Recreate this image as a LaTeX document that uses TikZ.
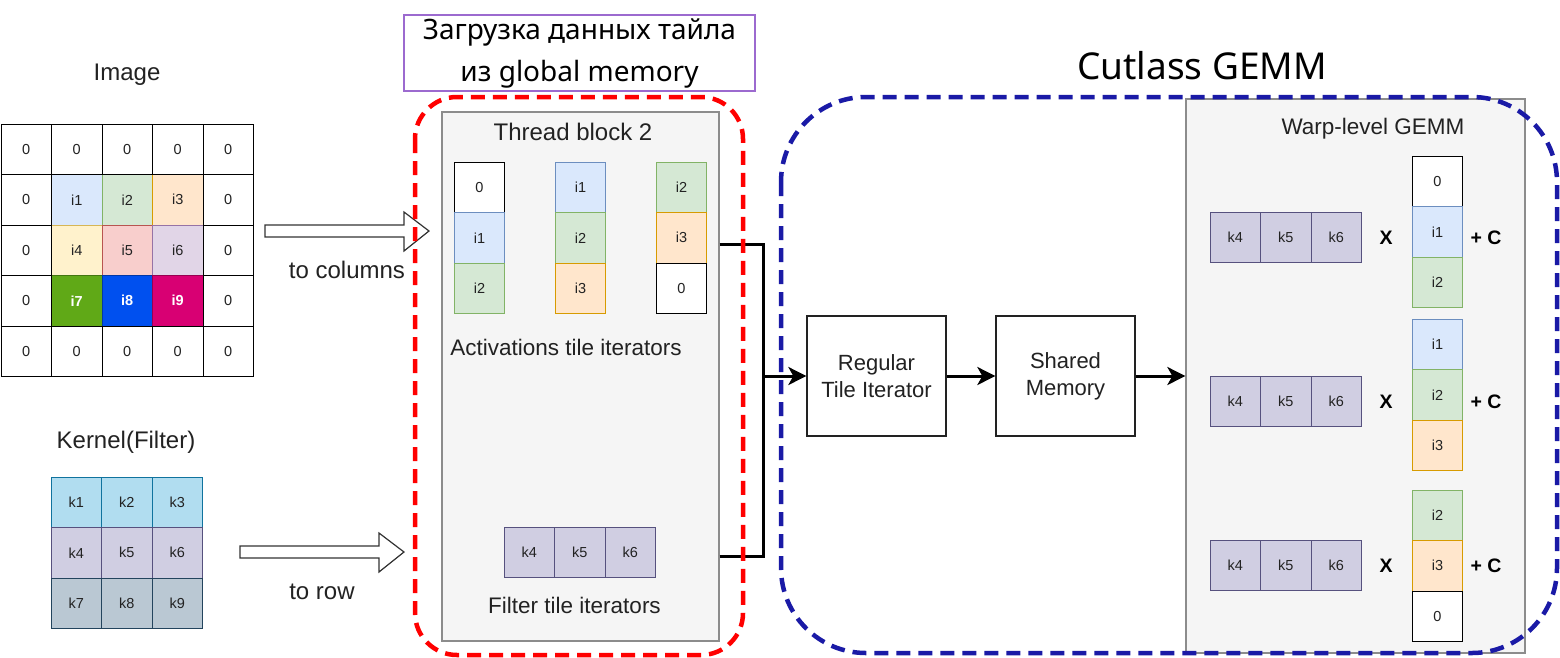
\documentclass[tikz,border=0pt]{standalone}
\usepackage{fontspec}
\setmainfont{Liberation Sans}
\newfontfamily\geofont{Noto Sans}
\usetikzlibrary{arrows.meta}
\definecolor{fblue}{HTML}{DAE8FC}\definecolor{bblue}{HTML}{6C8EBF}
\definecolor{fgreen}{HTML}{D5E8D4}\definecolor{bgreen}{HTML}{82B366}
\definecolor{forange}{HTML}{FFE6CC}\definecolor{borange}{HTML}{D79B00}
\definecolor{fyellow}{HTML}{FFF2CC}\definecolor{byellow}{HTML}{D6B656}
\definecolor{fred}{HTML}{F8CECC}\definecolor{bred}{HTML}{B85450}
\definecolor{fpurple}{HTML}{E1D5E7}\definecolor{bpurple}{HTML}{9673A6}
\definecolor{dgreen}{HTML}{60A917}\definecolor{dblue}{HTML}{0050EF}\definecolor{dmag}{HTML}{D80073}
\definecolor{kblue}{HTML}{B1DDF0}\definecolor{kblueb}{HTML}{10739E}
\definecolor{klav}{HTML}{D0CEE2}\definecolor{klavb}{HTML}{56517E}
\definecolor{kgray}{HTML}{BAC8D3}\definecolor{kgrayb}{HTML}{23445D}
\definecolor{panel}{HTML}{F5F5F5}\definecolor{panelb}{HTML}{8C8C8C}
\definecolor{lblbox}{HTML}{9C6ACF}
\definecolor{cutblue}{HTML}{1A1AA6}
\definecolor{txt}{HTML}{222222}
\tikzset{
  cell/.style={draw, minimum width=50.5pt, minimum height=50.5pt, inner sep=0pt, line width=1pt,
    text=txt, font=\fontsize{14.5}{16}\selectfont},
  wcell/.style={fill=white, draw=black},
  cblue/.style={fill=fblue, draw=bblue},
  cgreen/.style={fill=fgreen, draw=bgreen},
  corange/.style={fill=forange, draw=borange},
  cyellow/.style={fill=fyellow, draw=byellow},
  cred/.style={fill=fred, draw=bred},
  cpurple/.style={fill=fpurple, draw=bpurple},
  cdgreen/.style={fill=dgreen, draw=dgreen!70!black, text=white, font=\fontsize{14.5}{16}\selectfont\bfseries},
  cdblue/.style={fill=dblue, draw=dblue!70!black, text=white, font=\fontsize{14.5}{16}\selectfont\bfseries},
  cdmag/.style={fill=dmag, draw=dmag!70!black, text=white, font=\fontsize{14.5}{16}\selectfont\bfseries},
  kb/.style={fill=kblue, draw=kblueb},
  kl/.style={fill=klav, draw=klavb},
  kg/.style={fill=kgray, draw=kgrayb},
  big/.style={text=txt, font=\fontsize{24}{28}\selectfont},
  mid/.style={text=txt, font=\fontsize{22.5}{27}\selectfont},
  opx/.style={text=black, font=\fontsize{19.5}{22}\selectfont\bfseries},
  panelbox/.style={draw=panelb, fill=panel, line width=1.3pt},
  procbox/.style={draw=txt, fill=white, line width=1.3pt, minimum width=139pt, minimum height=120pt,
    align=center, text=txt, font=\fontsize{22}{27}\selectfont},
  conn/.style={line width=3pt, black},
  arr/.style={line width=3pt, black, -{Stealth[length=18pt, width=18pt, inset=5pt]}},
  blockarrow/.style={draw=black!80, fill=white, line width=1.2pt, line join=miter},
  reddash/.style={draw=red, line width=4.5pt, dash pattern=on 14pt off 8pt, rounded corners=42pt},
  bluedash/.style={draw=cutblue, line width=4.5pt, dash pattern=on 14pt off 8pt, rounded corners=85pt}
}
\begin{document}
\begin{tikzpicture}[x=1pt, y=-1pt]
\fill[white] (0,0) rectangle (1560,657);
\useasboundingbox (0,0) rectangle (1560,657);

% ---------- Image grid ----------
\node[big] (imgtitle) at (127,75) {Image};
\foreach \r/\c/\t/\s in {1/1/i1/cblue,1/2/i2/cgreen,1/3/i3/corange,2/1/i4/cyellow,2/2/i5/cred,2/3/i6/cpurple,3/1/i7/cdgreen,3/2/i8/cdblue,3/3/i9/cdmag}
  \node[cell,\s] (img\r\c) at ({1+50.5*\c+25.25},{124+50.5*\r+25.25}) {\t};
\foreach \r in {0,...,4}{\foreach \c in {0,...,4}{
  \pgfmathtruncatemacro\inner{(\r>0)&&(\r<4)&&(\c>0)&&(\c<4)}
  \ifnum\inner=0
    \node[cell,wcell] (img\r\c) at ({1+50.5*\c+25.25},{124+50.5*\r+25.25}) {0};
  \fi
}}

% ---------- Kernel grid ----------
\node[big] (kertitle) at (126,442) {Kernel(Filter)};
\foreach \r/\c/\t/\s in {0/0/k1/kb,0/1/k2/kb,0/2/k3/kb,1/0/k4/kl,1/1/k5/kl,1/2/k6/kl,2/0/k7/kg,2/1/k8/kg,2/2/k9/kg}
  \node[cell,\s] (ker\r\c) at ({51+50.5*\c+25.25},{477+50.5*\r+25.25}) {\t};

% ---------- block arrows ----------
\draw[blockarrow] (265,225) -- (404,225) -- (404,212) -- (429,231) -- (404,251) -- (404,237) -- (265,237) -- cycle;
\node[big] (tocol) at (347,270) {to columns};
\draw[blockarrow] (240,546) -- (379,546) -- (379,533) -- (404,552) -- (379,572) -- (379,558) -- (240,558) -- cycle;
\node[big] (torow) at (322,592) {to row};

% ---------- top label ----------
\node[draw=lblbox, line width=1.4pt, minimum width=351pt, minimum height=76pt, inner sep=0pt,
  align=center, text=black, font=\geofont\fontsize{28}{42}\selectfont] (loadlbl) at (579.5,53)
  {\raisebox{-3pt}{Загрузка данных тайла}\\\raisebox{-3pt}{из global memory}};

% ---------- Thread block ----------
\node[panelbox, minimum width=277pt, minimum height=529pt] (tb) at (580.5,376.5) {};
\node[big] (tbtitle) at (573,132) {Thread block 2};
\foreach \i/\t/\s in {0/0/wcell,1/i1/cblue,2/i2/cgreen}
  \node[cell,\s] (acta\i) at (479.5,{162+25.25+50.5*\i}) {\t};
\foreach \i/\t/\s in {0/i1/cblue,1/i2/cgreen,2/i3/corange}
  \node[cell,\s] (actb\i) at (580.5,{162+25.25+50.5*\i}) {\t};
\foreach \i/\t/\s in {0/i2/cgreen,1/i3/corange,2/0/wcell}
  \node[cell,\s] (actc\i) at (681.5,{162+25.25+50.5*\i}) {\t};
\node[mid] (actlbl) at (566,347) {Activations tile iterators};
\foreach \i/\t in {0/k4,1/k5,2/k6}
  \node[cell,kl] (flt\i) at ({504+25.25+50.5*\i},552.5) {\t};
\node[mid] (fltlbl) at (574.5,605) {Filter tile iterators};

% ---------- GEMM pipeline ----------
\node[procbox] (rti) at (876.5,376) {Regular\\Tile Iterator};
\node[procbox] (sm) at (1065.5,376) {Shared\\Memory};
\node[panelbox, minimum width=339pt, minimum height=554pt] (warp) at (1355.5,376) {};
\node[mid] (warplbl) at (1373,129) {Warp-level GEMM};

% warp rows
\foreach \row/\yc/\ya/\la/\sa/\lb/\sb/\lc/\sc in {
   1/237.5/156/0/wcell/i1/cblue/i2/cgreen,
   2/401.5/319/i1/cblue/i2/cgreen/i3/corange,
   3/565.5/490/i2/cgreen/i3/corange/0/wcell}{
  \foreach \i/\t in {0/k4,1/k5,2/k6}
    \node[cell,kl] (wk\row\i) at ({1210+25.25+50.5*\i},\yc) {\t};
  \node[opx] (wx\row) at (1386,\yc) {X};
  \node[cell,\sa] (wc\row a) at (1437.5,{\ya+25.25}) {\la};
  \node[cell,\sb] (wc\row b) at (1437.5,{\ya+25.25+50.5}) {\lb};
  \node[cell,\sc] (wc\row c) at (1437.5,{\ya+25.25+101}) {\lc};
  \node[opx] (wp\row) at (1486,\yc) {+ C};
}

% ---------- connectors ----------
\coordinate (tbA) at (719.5,244);
\coordinate (tbF) at (719.5,556);
\coordinate (join) at (763,376);
\draw[conn] (tbA) -| (join);
\draw[conn] (tbF) -| (join);
\draw[arr] (join) -- (rti.west);
\draw[arr] (rti.east) -- (sm.west);
\draw[arr] (sm.east) -- (warp.west);

% ---------- dashed groups ----------
\draw[reddash] (415,97) rectangle (743,655);
\draw[bluedash] (781,97) rectangle (1557,653);
\node[text=black, font=\geofont\fontsize{37}{44}\selectfont] (cutlbl) at (1202,66) {Cutlass GEMM};
\end{tikzpicture}
\end{document}
